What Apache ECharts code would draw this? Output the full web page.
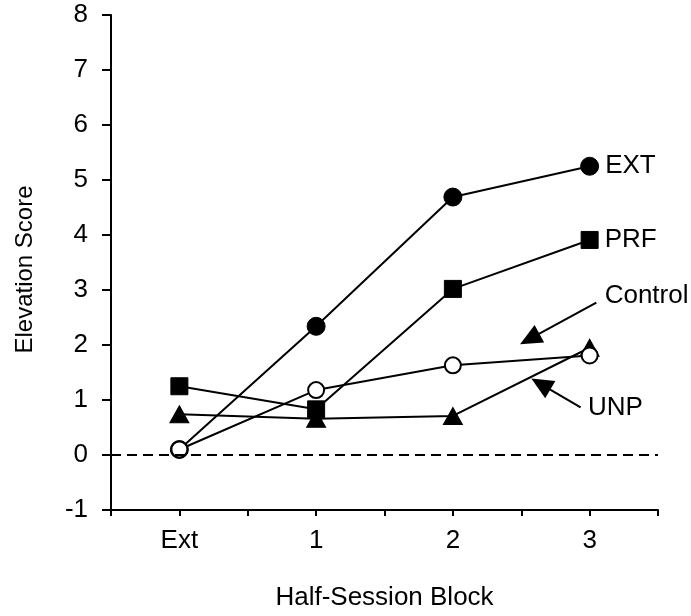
<!DOCTYPE html>
<html>
<head>
<meta charset="utf-8">
<script src="https://cdn.jsdelivr.net/npm/echarts@6/dist/echarts.min.js"></script>
<style>
  html, body { margin: 0; padding: 0; background: #fff; }
  #main { width: 691px; height: 616px; }
</style>
</head>
<body>
<div id="main"></div>
<script>
let chart = echarts.init(document.querySelector('#main'), null, { renderer: 'canvas' });

// block positions on the x axis and their labels
const blocks = [0, 1, 2, 3];
const blockLabels = ['Ext', '1', '2', '3'];

// elevation scores
const ext = [0.1, 2.34, 4.69, 5.25];
const prf = [1.25, 0.83, 3.02, 3.91];
const control = [0.74, 0.66, 0.71, 1.95];
const unp = [0.1, 1.18, 1.63, 1.81];

// annotation positions (data units): text anchor, arrow start, arrow tip
const controlText = [3.11, 2.89];
const controlArrow = [[3.049, 2.77], [2.562, 2.11]];
const unpText = [2.988, 0.86];
const unpArrow = [[2.934, 0.864], [2.643, 1.29]];

const font = 'Liberation Sans, Arial, Helvetica, sans-serif';

function pts(vals, endName) {
  return blocks.map((b, i) => {
    const p = { value: [b, vals[i]] };
    if (endName && i === blocks.length - 1) {
      p.label = {
        show: true, position: 'right', distance: 6,
        formatter: endName, color: '#000', fontSize: 26, fontFamily: font
      };
    }
    return p;
  });
}

const base = {
  type: 'line',
  lineStyle: { color: '#000', width: 2 },
  itemStyle: { color: '#000', borderColor: '#000' },
  animation: false,
  z: 3
};

function textPoint(coord, text) {
  return {
    coord: coord,
    symbol: 'circle',
    symbolSize: 0,
    label: {
      show: true, position: 'right', distance: 0, formatter: text,
      color: '#000', fontSize: 26, fontFamily: font
    }
  };
}

function arrow(line) {
  return [{ coord: line[0] }, { coord: line[1] }];
}

let option = {
  backgroundColor: '#fff',
  grid: { left: 111, right: 33, top: 15, bottom: 104 },
  xAxis: {
    type: 'value',
    min: -0.5,
    max: 3.5,
    interval: 0.5,
    name: 'Half-Session Block',
    nameLocation: 'middle',
    nameGap: 75,
    nameTextStyle: { color: '#000', fontSize: 26, fontFamily: font },
    axisLine: { onZero: false, lineStyle: { color: '#000', width: 2 } },
    axisTick: { length: 6, lineStyle: { color: '#000', width: 2 } },
    axisLabel: {
      color: '#000', fontSize: 26, fontFamily: font, margin: 18,
      formatter: v => {
        const i = blocks.indexOf(v);
        return i >= 0 ? blockLabels[i] : '';
      }
    },
    splitLine: { show: false }
  },
  yAxis: {
    type: 'value',
    min: -1,
    max: 8,
    interval: 1,
    name: 'Elevation Score',
    nameLocation: 'middle',
    nameGap: 74,
    nameTextStyle: { color: '#000', fontSize: 24, fontFamily: font, padding: [0, 14, 0, 0] },
    axisLine: { show: true, onZero: false, lineStyle: { color: '#000', width: 2 } },
    axisTick: { show: true, length: 9, lineStyle: { color: '#000', width: 2 } },
    axisLabel: { color: '#000', fontSize: 26, fontFamily: font, margin: 23 },
    splitLine: { show: false }
  },
  series: [
    Object.assign({}, base, {
      name: 'Control',
      data: pts(control),
      symbol: 'triangle',
      symbolSize: [19, 17],
      markLine: {
        silent: true,
        symbol: ['none', 'triangle'],
        symbolSize: [20, 22],
        label: { show: false },
        lineStyle: { color: '#000', width: 2, type: 'solid' },
        data: [arrow(controlArrow), arrow(unpArrow)]
      },
      markPoint: {
        silent: true,
        data: [textPoint(controlText, 'Control'), textPoint(unpText, 'UNP')]
      }
    }),
    Object.assign({}, base, {
      name: 'PRF',
      data: pts(prf, 'PRF'),
      symbol: 'rect',
      symbolSize: 17,
      markLine: {
        silent: true,
        symbol: ['none', 'none'],
        label: { show: false },
        lineStyle: { color: '#000', width: 2, type: [10, 6] },
        data: [{ yAxis: 0 }]
      }
    }),
    Object.assign({}, base, {
      name: 'EXT',
      data: pts(ext, 'EXT'),
      symbol: 'circle',
      symbolSize: 18
    }),
    Object.assign({}, base, {
      name: 'UNP',
      data: pts(unp),
      symbol: 'circle',
      symbolSize: 16,
      itemStyle: { color: '#fff', borderColor: '#000', borderWidth: 2 }
    })
  ]
};

chart.setOption(option);
</script>
</body>
</html>
